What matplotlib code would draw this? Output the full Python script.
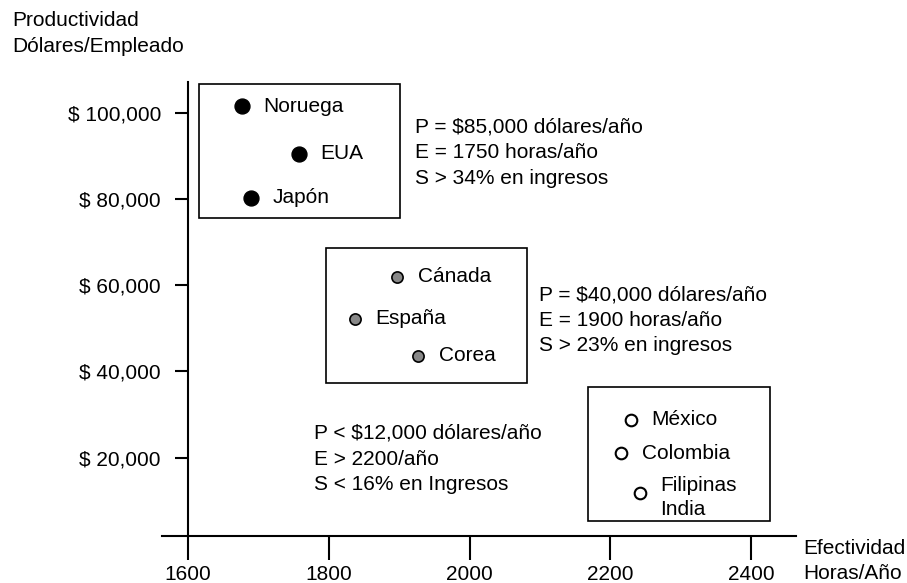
"""Productividad vs efectividad por país (diagrama de grupos)."""
import matplotlib
matplotlib.use('Agg')
from matplotlib import pyplot as plt
from matplotlib.patches import Rectangle

plt.rcParams['font.family'] = ['Liberation Sans', 'DejaVu Sans']

FONT_SIZE = 15

# Data (horas/año, dólares/empleado)
group_high = ['Noruega', 'EUA', 'Japón']
high_x = [1677, 1758, 1690]
high_y = [101500, 90500, 80300]

group_mid = ['Cánada', 'España', 'Corea']
mid_x = [1897, 1837, 1927]
mid_y = [62000, 52200, 43600]

group_low = ['México', 'Colombia', 'Filipinas\nIndia']
low_x = [2229, 2215, 2242]
low_y = [28800, 21100, 11800]

# Box around each group: (x0, x1, y0, y1)
boxes = [
    (1616, 1901, 75600, 106700),
    (1796, 2082, 37300, 68600),
    (2168, 2427, 5300, 36400),
]

notes = [
    'P = $85,000 dólares/año\nE = 1750 horas/año\nS > 34% en ingresos',
    'P = $40,000 dólares/año\nE = 1900 horas/año\nS > 23% en ingresos',
    'P < $12,000 dólares/año\nE > 2200/año\nS < 16% en Ingresos',
]
note_x = [1923, 2099, 1779]
note_y = [90700, 51900, 19700]

x_ticks = [1600, 1800, 2000, 2200, 2400]
y_ticks = [20000, 40000, 60000, 80000, 100000]
y_tick_labels = ['$ 20,000', '$ 40,000', '$ 60,000', '$ 80,000', '$ 100,000']


def main():
    fig = plt.figure(figsize=(9.07, 5.83), dpi=100)
    fig.patch.set_facecolor('white')
    ax = fig.add_axes([162 / 907, 47 / 583, 634 / 907, 454 / 583])
    ax.set_xlim(1563, 2464)
    ax.set_ylim(1855, 107130)

    for side in ['top', 'right']:
        ax.spines[side].set_visible(False)
    ax.spines['left'].set_position(('data', 1600))
    for side in ['left', 'bottom']:
        ax.spines[side].set_linewidth(1.5)

    ax.set_xticks(x_ticks)
    ax.set_xticklabels([str(t) for t in x_ticks])
    ax.set_yticks(y_ticks)
    ax.set_yticklabels(y_tick_labels)
    ax.tick_params(axis='x', direction='out', length=17, width=1.5, pad=4,
                   labelsize=FONT_SIZE)
    ax.tick_params(axis='y', direction='out', length=9.5, width=1.5, pad=10,
                   labelsize=FONT_SIZE)

    ax.scatter(high_x, high_y, s=115, color='black', zorder=3, clip_on=False)
    ax.scatter(mid_x, mid_y, s=65, facecolor='#888888', edgecolor='black',
               linewidth=1.2, zorder=3, clip_on=False)
    ax.scatter(low_x, low_y, s=70, facecolor='white', edgecolor='black',
               linewidth=1.5, zorder=3, clip_on=False)

    for names, xs, ys in [(group_high, high_x, high_y),
                          (group_mid, mid_x, mid_y),
                          (group_low, low_x, low_y)]:
        for name, x, y in zip(names, xs, ys):
            dy = -3 if '\n' in name else 0
            ax.annotate(name, (x, y), xytext=(15, dy), textcoords='offset points',
                        ha='left', va='center', fontsize=FONT_SIZE,
                        linespacing=1.3)

    for x0, x1, y0, y1 in boxes:
        ax.add_patch(Rectangle((x0, y0), x1 - x0, y1 - y0, fill=False,
                               edgecolor='black', linewidth=1.2, clip_on=False))

    for text, x, y in zip(notes, note_x, note_y):
        ax.text(x, y, text, ha='left', va='center', fontsize=FONT_SIZE,
                linespacing=1.44)

    fig.text(12 / 907, 1 - 11 / 583, 'Productividad\nDólares/Empleado',
             ha='left', va='top', fontsize=FONT_SIZE, linespacing=1.44)
    fig.text(803 / 907, 1 - 561 / 583, 'Efectividad\nHoras/Año',
             ha='left', va='center', fontsize=FONT_SIZE, linespacing=1.4)

    fig.savefig('out.png', dpi=100, facecolor='white')


if __name__ == '__main__':
    main()
